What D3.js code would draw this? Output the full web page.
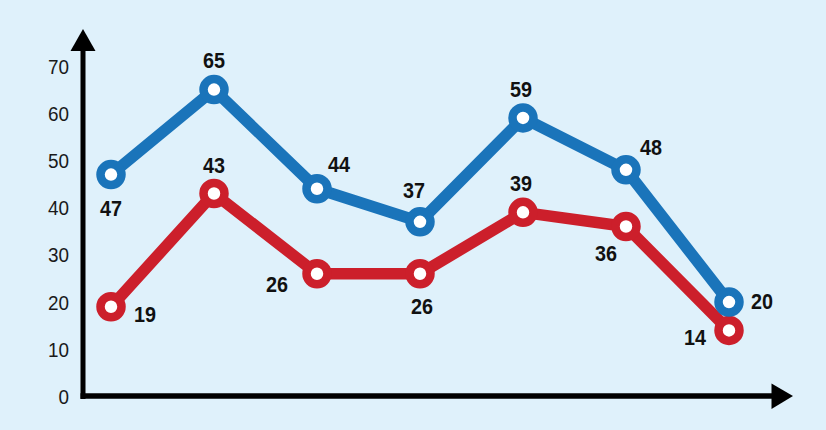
<!DOCTYPE html>
<html>
<head>
<meta charset="utf-8">
<script src="https://cdn.jsdelivr.net/npm/d3@7/dist/d3.min.js"></script>
<style>
  html, body { margin: 0; padding: 0; background: #dff1fb; }
  svg { display: block; }
</style>
</head>
<body>
<svg id="chart" width="826" height="430"></svg>
<script>
// ---- data ----
const categories = ["1", "2", "3", "4", "5", "6", "7"];
const blueValues = [47, 65, 44, 37, 59, 48, 20];
const redValues  = [19, 43, 26, 26, 39, 36, 14];
const yTickValues = [0, 10, 20, 30, 40, 50, 60, 70];

// ---- label placement (layout only: offset of label centre from point) ----
const blueLabelOffsets = [[0, 33], [0, -30], [22, -25], [-6, -32], [-2, -29], [25, -23], [33, -1]];
const redLabelOffsets  = [[34, 7], [0, -28], [-40, 10], [2, 32], [-2, -29], [-20, 27], [-34, 7]];

const W = 826, H = 430;
const svg = d3.select("#chart");
svg.append("rect").attr("width", W).attr("height", H).attr("fill", "#dff1fb");

const x = d3.scalePoint().domain(categories).range([111, 729]);
const y = d3.scaleLinear().domain([0, 70]).range([396.5, 66]);

const axisX = 83, axisY = 396;
const FONT = "'Liberation Sans', Arial, sans-serif";

// y tick labels
svg.append("g").selectAll("text")
  .data(yTickValues)
  .join("text")
  .attr("transform", d => `translate(69,${y(d)}) scale(0.9,1)`)
  .attr("dy", "0.36em")
  .attr("text-anchor", "end")
  .attr("font-family", FONT)
  .attr("font-size", 21)
  .attr("fill", "#1a1a1a")
  .text(d => d);

// axes
svg.append("line")
  .attr("x1", axisX).attr("y1", 50).attr("x2", axisX).attr("y2", axisY + 3)
  .attr("stroke", "#000").attr("stroke-width", 5);
svg.append("line")
  .attr("x1", axisX - 2.5).attr("y1", axisY).attr("x2", 773).attr("y2", axisY)
  .attr("stroke", "#000").attr("stroke-width", 5.5);
svg.append("path")
  .attr("d", `M${axisX},29 L${axisX + 12.5},51 L${axisX - 12.5},51 Z`)
  .attr("fill", "#000");
svg.append("path")
  .attr("d", `M793,${axisY} L771.5,${axisY - 12.5} L771.5,${axisY + 13} Z`)
  .attr("fill", "#000");

function drawSeries(values, color, offsets) {
  const pts = values.map((v, i) => [x(categories[i]), y(v)]);
  const line = d3.line().x(d => d[0]).y(d => d[1]);
  svg.append("path")
    .attr("d", line(pts))
    .attr("fill", "none")
    .attr("stroke", color)
    .attr("stroke-width", 11.5)
    .attr("stroke-linejoin", "round");
  svg.append("g").selectAll("circle")
    .data(pts)
    .join("circle")
    .attr("cx", d => d[0])
    .attr("cy", d => d[1])
    .attr("r", 10.5)
    .attr("fill", "#fff")
    .attr("stroke", color)
    .attr("stroke-width", 8.5);
  svg.append("g").selectAll("text")
    .data(values)
    .join("text")
    .attr("transform", (d, i) =>
      `translate(${pts[i][0] + offsets[i][0]},${pts[i][1] + offsets[i][1]}) scale(0.9,1)`)
    .attr("dy", "0.36em")
    .attr("text-anchor", "middle")
    .attr("font-family", FONT)
    .attr("font-weight", "bold")
    .attr("font-size", 22)
    .attr("fill", "#111")
    .text(d => d);
}

drawSeries(redValues, "#cc1f2b", redLabelOffsets);
drawSeries(blueValues, "#1a74ba", blueLabelOffsets);
</script>
</body>
</html>
